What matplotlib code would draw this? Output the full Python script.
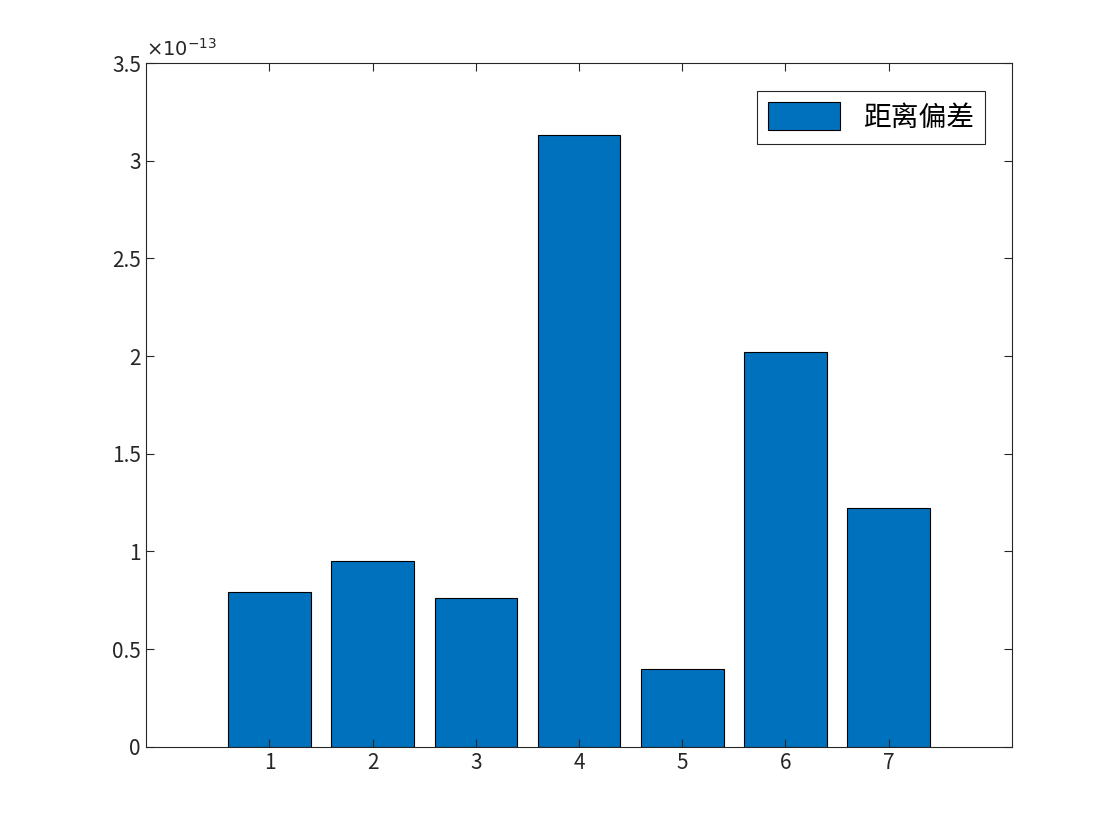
import matplotlib
matplotlib.use("Agg")
import matplotlib.pyplot as plt

plt.rcParams['font.family'] = ['Noto Sans CJK SC', 'DejaVu Sans']

categories = [1, 2, 3, 4, 5, 6, 7]
values = [0.793, 0.952, 0.763, 3.132, 0.399, 2.021, 1.223]  # units of 1e-13
series_label = "距离偏差"

fig = plt.figure(figsize=(11.2, 8.4), dpi=100)
ax = fig.add_axes([0.130, 0.111, 0.774, 0.814])
ax.bar(categories, [v * 1e-13 for v in values], width=0.8, color="#0072BD",
       edgecolor="black", linewidth=0.8, label=series_label)
ax.set_xlim(-0.2, 8.2)
ax.set_ylim(0, 3.5e-13)
ax.set_xticks(categories)
ax.set_yticks([i * 0.5e-13 for i in range(8)])
ax.set_yticklabels(["0", "0.5", "1", "1.5", "2", "2.5", "3", "3.5"])
ax.tick_params(direction="in", labelsize=15, colors="#262626", length=6,
               top=True, right=True)
for s in ax.spines.values():
    s.set_color("#262626")
    s.set_linewidth(0.8)
ax.text(0.0, 1.005, r"$\times10^{-13}$", transform=ax.transAxes, fontsize=14,
        color="#262626", ha="left", va="bottom", family="DejaVu Sans")
leg = ax.legend(loc="upper right", fontsize=20, fancybox=False, framealpha=1,
                edgecolor="#262626", handlelength=2.6, handleheight=1.2,
                borderaxespad=1.0)
leg.get_frame().set_linewidth(0.8)
fig.savefig("out.png", dpi=100)
